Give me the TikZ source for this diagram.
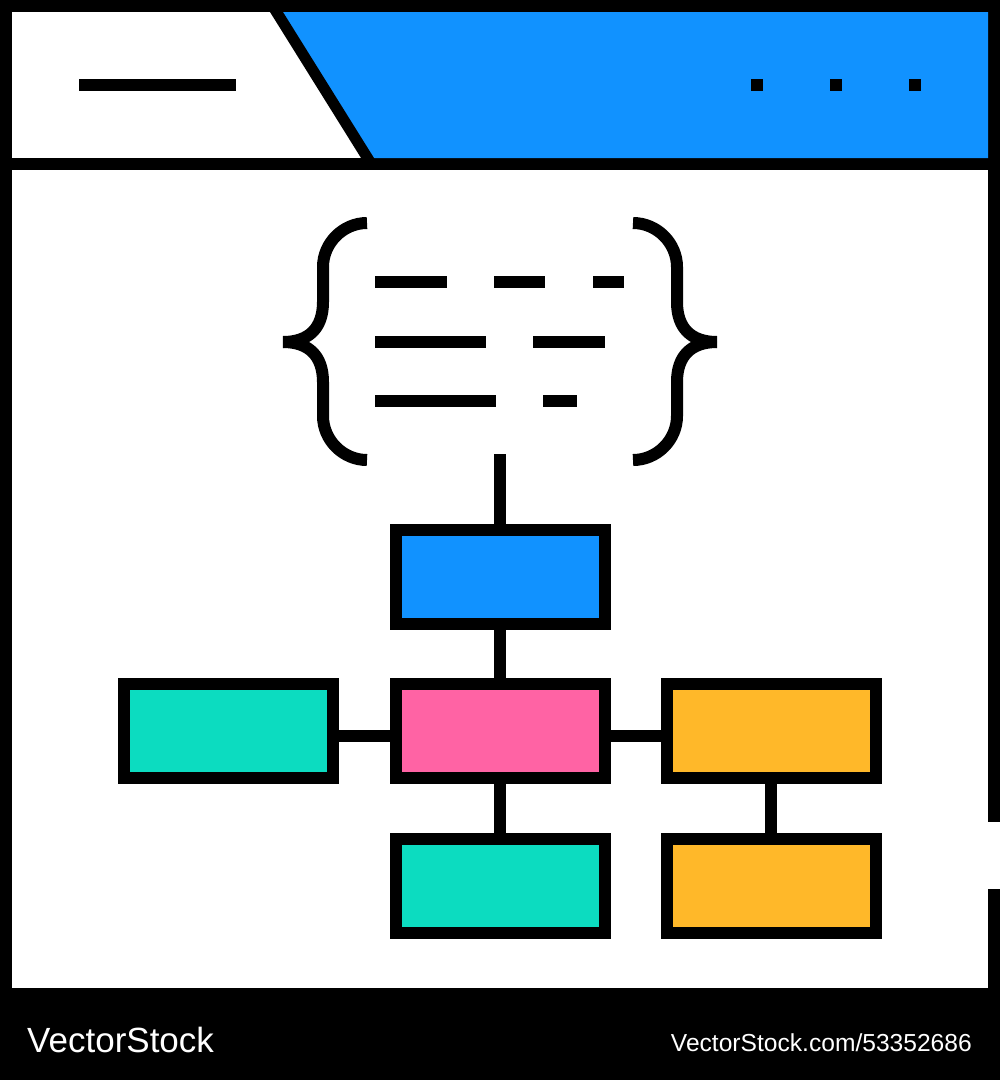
\documentclass[tikz,border=0pt]{standalone}
\usepackage{fontspec}
\setmainfont{Liberation Sans}
\usepackage{tikz}

\definecolor{barblue}{HTML}{1192FF}
\definecolor{boxteal}{HTML}{0CDCC0}
\definecolor{boxpink}{HTML}{FF63A4}
\definecolor{boxorange}{HTML}{FFB829}

\begin{document}
\begin{tikzpicture}[x=1pt,y=-1pt]
	\tikzstyle{box}=[rectangle,draw=black,line width=12pt,minimum width=209pt,minimum height=94pt,inner sep=0pt]
	\tikzstyle{textline}=[line width=12pt]
	\tikzstyle{brace}=[line width=12pt]
	\tikzstyle{link}=[line width=12pt]

	\useasboundingbox (0,0) rectangle (1000,1080);

	% frame and window
	\fill [black] (0,0) rectangle (1000,1080);
	\fill [white] (12,12) rectangle (988,158);
	\fill [white] (12,170) rectangle (988,988);
	\fill [white] (988,822) rectangle (1000,889);
	\fill [barblue] (276,12) -- (988,12) -- (988,158) -- (368,158) -- cycle;
	\begin{scope}
	  \clip (0,0) rectangle (1000,164);
	  \draw [line width=11pt] (269,0) -- (375,170);
	\end{scope}

	% tab title and dots
	\draw [textline] (79,85) -- (236,85);
	\foreach \x in {757,836,915}
	  \fill [black] (\x-6,79) rectangle (\x+6,91);

	% braces
	\draw [brace] (367,223) .. controls (343,223) and (323,243) .. (323,267) -- (323,302) .. controls (323,328) and (309,342) .. (283,342);
	\draw [brace] (367,460) .. controls (343,460) and (323,440) .. (323,416) -- (323,382) .. controls (323,356) and (309,342) .. (283,342);
	\draw [brace] (633,223) .. controls (657,223) and (677,243) .. (677,267) -- (677,302) .. controls (677,328) and (691,342) .. (717,342);
	\draw [brace] (633,460) .. controls (657,460) and (677,440) .. (677,416) -- (677,382) .. controls (677,356) and (691,342) .. (717,342);

	% text lines
	\foreach \y/\a/\b in {282/375/447,282/494/545,282/593/624,342/375/486,342/533/605,401/375/496,401/543/577}
	  \draw [textline] (\a,\y) -- (\b,\y);

	% chart
	\coordinate (stem) at (500,454);
	\node [box,fill=barblue] (root) at (500,577) {};
	\node [box,fill=boxpink] (mid) at (500,731) {};
	\node [box,fill=boxteal] (left) at (228.5,731) {};
	\node [box,fill=boxorange] (right) at (771,731) {};
	\node [box,fill=boxteal] (below) at (500,885.5) {};
	\node [box,fill=boxorange] (rightbelow) at (771,885.5) {};

	\foreach \source/\dest in
	{stem/root,root/mid,mid/below,right/rightbelow}
	  \draw [link] (\source) -- (\dest);
	\foreach \source/\dest in
	{left.east/mid.west,mid.east/right.west}
	  \draw [link] ([yshift=-5pt]\source) -- ([yshift=-5pt]\dest);

	% watermark
	\node [anchor=base west,inner sep=0pt,text=white,font=\fontsize{35}{40}\selectfont] (wmark) at (27,1052) {VectorStock};
	\node [anchor=base east,inner sep=0pt,text=white,font=\fontsize{24.6}{28}\selectfont] (wurl) at (972,1051) {VectorStock.com/53352686};
\end{tikzpicture}
\end{document}
